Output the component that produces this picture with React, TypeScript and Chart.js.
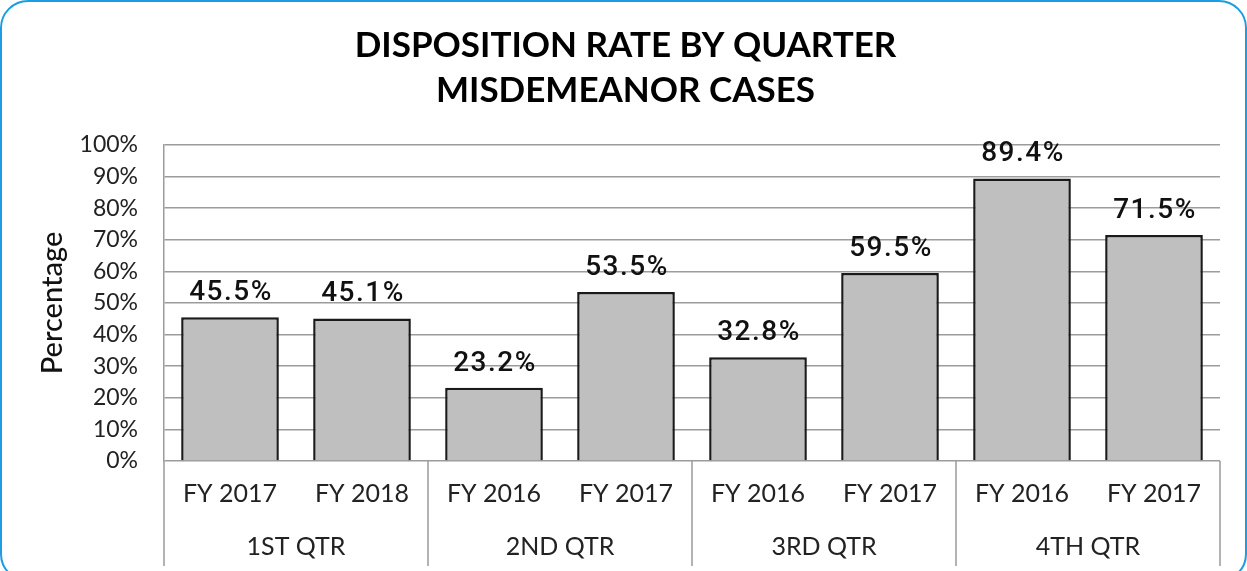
import React, { useEffect, useRef } from "react";
import { Chart, registerables } from "chart.js";

Chart.register(...registerables);

const titleLines = ["DISPOSITION RATE BY QUARTER", "MISDEMEANOR CASES"];
const fiscalYears = ["FY 2017", "FY 2018", "FY 2016", "FY 2017", "FY 2016", "FY 2017", "FY 2016", "FY 2017"];
const quarters = ["1ST QTR", "2ND QTR", "3RD QTR", "4TH QTR"];
const rates = [45.5, 45.1, 23.2, 53.5, 32.8, 59.5, 89.4, 71.5];
const yTicks = [0, 10, 20, 30, 40, 50, 60, 70, 80, 90, 100];

const W = 1247;
const H = 571;

const titlePlugin = {
  id: "customTitle",
  afterDraw(chart: any) {
    const ctx = chart.ctx;
    ctx.save();
    ctx.font = "bold 35px Lato";
    ctx.fillStyle = "#000";
    ctx.textAlign = "center";
    ctx.textBaseline = "middle";
    const cx = chart.width / 2 + 2;
    titleLines.forEach((line, i) => {
      ctx.fillText(line, cx, 46 + i * 45);
    });
    ctx.restore();
  },
};

const dataLabelPlugin = {
  id: "dataLabels",
  afterDatasetsDraw(chart: any) {
    const ctx = chart.ctx;
    const meta = chart.getDatasetMeta(0);
    ctx.save();
    ctx.font = "500 28px Roboto";
    (ctx as any).letterSpacing = "1.5px";
    ctx.fillStyle = "#111";
    ctx.textAlign = "center";
    ctx.textBaseline = "alphabetic";
    meta.data.forEach((bar: any, i: number) => {
      ctx.fillText(rates[i].toFixed(1) + "%", bar.x + 1, bar.y - 17);
    });
    ctx.restore();
  },
};

const groupAxisPlugin = {
  id: "groupAxis",
  afterDraw(chart: any) {
    const ctx = chart.ctx;
    const x = chart.scales.x;
    const area = chart.chartArea;
    const step = x.getPixelForValue(1) - x.getPixelForValue(0);
    const per = fiscalYears.length / quarters.length;
    ctx.save();
    ctx.strokeStyle = "#9a9a9a";
    ctx.lineWidth = 1.5;
    for (let g = 0; g <= quarters.length; g++) {
      const px = x.getPixelForValue(g * per) - step / 2;
      ctx.beginPath();
      ctx.moveTo(px, area.bottom);
      ctx.lineTo(px, 566);
      ctx.stroke();
    }
    ctx.font = "25px Lato";
    ctx.fillStyle = "#222";
    ctx.textAlign = "center";
    ctx.textBaseline = "middle";
    quarters.forEach((q, g) => {
      const c = (x.getPixelForValue(g * per) + x.getPixelForValue(g * per + per - 1)) / 2;
      ctx.fillText(q, c, 547);
    });
    ctx.restore();
  },
};

export default function App() {
  const ref = useRef<HTMLCanvasElement>(null);

  useEffect(() => {
    document.body.style.margin = "0";
    const chart = new Chart(ref.current as HTMLCanvasElement, {
      type: "bar",
      data: {
        labels: fiscalYears,
        datasets: [
          {
            data: rates,
            backgroundColor: "#bfbfbf",
            borderColor: "#1a1a1a",
            borderWidth: 2.5,
            categoryPercentage: 1,
            barPercentage: 0.74,
          },
        ],
      },
      plugins: [titlePlugin, dataLabelPlugin, groupAxisPlugin],
      options: {
        responsive: false,
        animation: false,
        devicePixelRatio: 1,
        layout: { padding: { left: 0, right: 27, top: 145, bottom: 0 } },
        plugins: {
          legend: { display: false },
          tooltip: { enabled: false },
          title: { display: false },
        },
        scales: {
          x: {
            grid: { display: false, drawTicks: false },
            border: { display: false },
            ticks: {
              color: "#222",
              font: { family: "Lato", size: 25 },
              padding: 18,
              maxRotation: 0,
              autoSkip: false,
            },
            afterFit(scale: any) {
              scale.height = 110;
            },
          },
          y: {
            min: 0,
            max: 100,
            afterBuildTicks(scale: any) {
              scale.ticks = yTicks.map((v) => ({ value: v }));
            },
            grid: { color: "#9c9c9c", lineWidth: 1.5, drawTicks: false },
            border: { display: true, color: "#9c9c9c", width: 1.5 },
            ticks: {
              color: "#222",
              font: { family: "Lato", size: 23 },
              padding: 26,
              callback: (v: any) => v + "%",
            },
            title: {
              display: true,
              text: "Percentage",
              color: "#111",
              font: { family: "Lato", size: 29, weight: "500" },
              padding: { top: 35, bottom: 0 },
            },
            afterFit(scale: any) {
              scale.width = 164;
            },
          },
        },
      },
    } as any);
    return () => chart.destroy();
  }, []);

  return (
    <div>
      <canvas
        ref={ref}
        width={W}
        height={H}
        style={{ position: "fixed", left: 0, top: 0, width: W, height: H }}
      />
      <div
        style={{
          position: "fixed",
          left: 0,
          top: 0,
          width: 1247,
          height: 582,
          boxSizing: "border-box",
          border: "2px solid #1b9ce3",
          borderRadius: 28,
          pointerEvents: "none",
        }}
      />
    </div>
  );
}
